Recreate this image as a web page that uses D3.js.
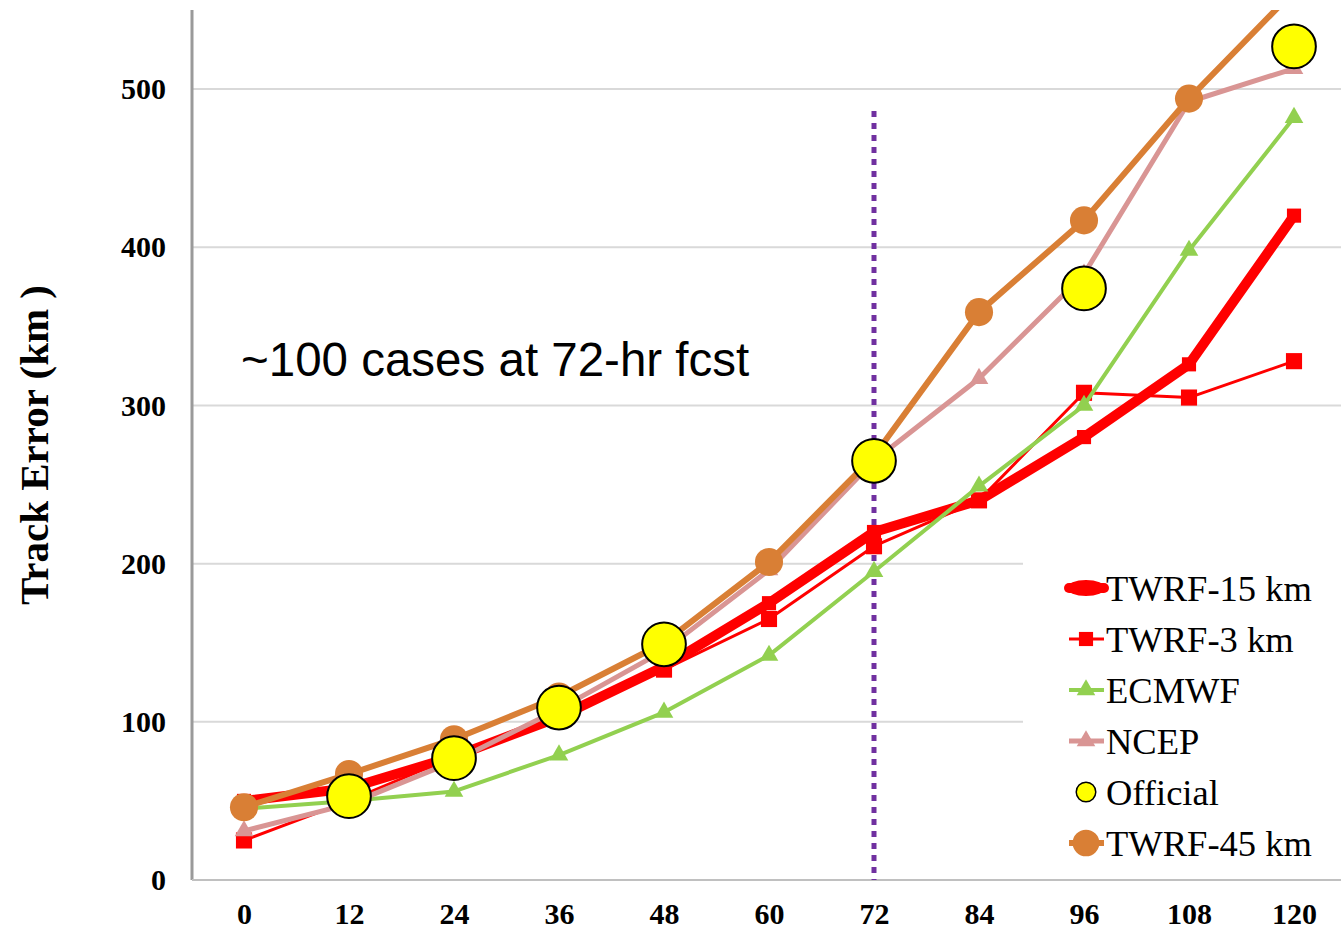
<!DOCTYPE html>
<html>
<head>
<meta charset="utf-8">
<script src="https://cdn.jsdelivr.net/npm/d3@7"></script>
<style>
  html, body { margin: 0; padding: 0; background: #fff; }
  svg { display: block; }
</style>
</head>
<body>
<svg id="chart" width="1341" height="932"></svg>
<script>
// ---------- data ----------
const hours = [0, 12, 24, 36, 48, 60, 72, 84, 96, 108, 120];
const yTicks = [0, 100, 200, 300, 400, 500];
const twrf15 = [50, 58, 78, 103, 135, 175, 220, 240, 280, 326, 420];
const twrf3 = [25, 50, 78, 105, 133, 165, 211, 240, 308, 305, 328];
const ecmwf = [45, 50, 56, 79, 106, 142, 195, 249, 300, 398, 482];
const ncep = [31, 48, 75, 108, 145, 196, 265, 317, 383, 492, 513];
const official = [null, 53, 77, 109, 149, null, 265, null, 374, null, 527];
const twrf45 = [46, 67, 89, 116, 150, 201, 268, 359, 417, 494, 562];
const seriesNames = ["TWRF-15 km", "TWRF-3 km", "ECMWF", "NCEP", "Official", "TWRF-45 km"];
const annotation = "~100 cases at 72-hr fcst";
const yTitle = "Track Error (km )";
const markerHour = 72;

// ---------- layout ----------
const svg = d3.select("#chart");
const x = d3.scaleLinear().domain([0, 120]).range([244, 1294]);
const y = d3.scaleLinear().domain([0, 550]).range([880, 10]);
const plotLeft = 192, plotRight = 1341;

const serif = "'Liberation Serif', 'Times New Roman', serif";

svg.append("defs").append("clipPath").attr("id", "plotclip")
  .append("rect").attr("x", plotLeft).attr("y", y(550)).attr("width", plotRight - plotLeft).attr("height", y(0) - y(550));

// gridlines
svg.append("g").selectAll("line").data(yTicks.filter(d => d > 0)).join("line")
  .attr("x1", plotLeft).attr("x2", plotRight)
  .attr("y1", d => y(d)).attr("y2", d => y(d))
  .attr("stroke", "#d9d9d9").attr("stroke-width", 2);

// y axis
const yAxis = d3.axisLeft(y).tickValues(yTicks).tickSize(0).tickPadding(26);
const gy = svg.append("g").attr("transform", `translate(${plotLeft},0)`).call(yAxis);
gy.select(".domain").remove();
gy.selectAll("text").attr("font-family", serif).attr("font-weight", "bold").attr("font-size", 30).attr("fill", "#000");
svg.append("line").attr("x1", plotLeft).attr("x2", plotLeft).attr("y1", y(550)).attr("y2", y(0))
  .attr("stroke", "#9a9a9a").attr("stroke-width", 3);

// x axis
const xAxis = d3.axisBottom(x).tickValues(hours).tickSize(0).tickPadding(23);
const gx = svg.append("g").attr("transform", `translate(0,${y(0)})`).call(xAxis);
gx.select(".domain").remove();
gx.selectAll("text").attr("font-family", serif).attr("font-weight", "bold").attr("font-size", 30).attr("fill", "#000");
svg.append("line").attr("x1", plotLeft).attr("x2", plotRight).attr("y1", y(0)).attr("y2", y(0))
  .attr("stroke", "#c0c0c0").attr("stroke-width", 2);

// y title
svg.append("text").attr("transform", `translate(48,${445}) rotate(-90)`)
  .attr("text-anchor", "middle").attr("font-family", serif).attr("font-weight", "bold")
  .attr("font-size", 41).attr("fill", "#000").text(yTitle);

// legend background box (covers gridlines)
svg.append("rect").attr("x", 1023).attr("y", 545).attr("width", plotRight - 1023).attr("height", 333).attr("fill", "#fff");

// vertical dotted line
svg.append("line").attr("x1", x(markerHour)).attr("x2", x(markerHour)).attr("y1", 111).attr("y2", y(0))
  .attr("stroke", "#7030a0").attr("stroke-width", 5).attr("stroke-dasharray", "6,6");

// annotation
svg.append("text").attr("x", 241).attr("y", 376).attr("font-family", "'Liberation Sans', Arial, sans-serif")
  .attr("font-size", 47.5).attr("fill", "#000").text(annotation);

// ---------- series ----------
const styles = [
  { name: seriesNames[0], data: twrf15, color: "#ff0000", width: 10, sym: d3.symbolSquare, size: 200, line: true },
  { name: seriesNames[1], data: twrf3, color: "#ff0000", width: 3, sym: d3.symbolSquare, size: 260, line: true },
  { name: seriesNames[2], data: ecmwf, color: "#92d050", width: 4, sym: d3.symbolTriangle, size: 150, line: true },
  { name: seriesNames[3], data: ncep, color: "#d99594", width: 5, sym: d3.symbolTriangle, size: 150, line: true },
  { name: seriesNames[5], data: twrf45, color: "#d97f35", width: 6, sym: d3.symbolCircle, size: 620, line: true },
  { name: seriesNames[4], data: official, color: "#ffff00", width: 0, sym: d3.symbolCircle, size: 1500, line: false, stroke: "#000" }
];

const plot = svg.append("g").attr("clip-path", "url(#plotclip)");
const lineGen = d3.line().defined(d => d[1] != null).x(d => x(d[0])).y(d => y(d[1]));

styles.forEach(s => {
  const pts = hours.map((h, i) => [h, s.data[i]]);
  const g = plot.append("g");
  if (s.line) {
    g.append("path").datum(pts).attr("d", lineGen).attr("fill", "none")
      .attr("stroke", s.color).attr("stroke-width", s.width).attr("stroke-linejoin", "round");
  }
  g.selectAll("path.m").data(pts.filter(d => d[1] != null)).join("path").attr("class", "m")
    .attr("transform", d => `translate(${x(d[0])},${y(d[1])})`)
    .attr("d", d3.symbol().type(s.sym).size(s.size))
    .attr("fill", s.color)
    .attr("stroke", s.stroke || "none").attr("stroke-width", s.stroke ? 2 : 0);
});

// ---------- legend ----------
const legendOrder = [0, 1, 2, 3, 5, 4];
const legendSize = [140, 200, 150, 150, 300, 560];
const legend = svg.append("g");
legendOrder.forEach((si, k) => {
  const s = styles[si];
  const cy = 588 + k * 51;
  const g = legend.append("g");
  if (s.line) {
    g.append("line").attr("x1", 1069).attr("x2", 1104).attr("y1", cy).attr("y2", cy)
      .attr("stroke", s.color).attr("stroke-width", s.width).attr("stroke-linecap", si === 0 ? "round" : "butt");
  }
  g.append("path").attr("transform", `translate(1086,${cy})`)
    .attr("d", d3.symbol().type(s.sym).size(si === 0 ? 0 : legendSize[k]))
    .attr("fill", s.color).attr("stroke", s.stroke || "none").attr("stroke-width", s.stroke ? 1.5 : 0);
  if (si === 0) {
    g.append("ellipse").attr("cx", 1086).attr("cy", cy).attr("rx", 19).attr("ry", 8).attr("fill", s.color);
  }
  g.append("text").attr("x", 1106).attr("y", cy).attr("dy", "0.35em")
    .attr("font-family", serif).attr("font-size", 36.5).attr("fill", "#000").text(s.name);
});
</script>
</body>
</html>
